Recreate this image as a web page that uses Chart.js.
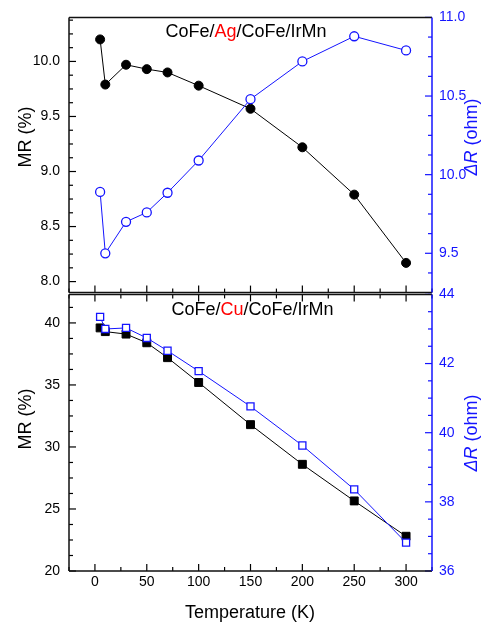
<!DOCTYPE html>
<html><head><meta charset="utf-8">
<script src="https://cdn.jsdelivr.net/npm/chart.js@4.4.0/dist/chart.umd.min.js"></script>
<style>
html,body{margin:0;padding:0;background:#fff;width:485px;height:624px;overflow:hidden}
canvas{position:absolute;left:0}
#c1{top:0}
#c2{top:277px}
</style></head><body>
<canvas id="c1" width="485" height="310"></canvas>
<canvas id="c2" width="485" height="347"></canvas>
<script>
// ---- data ----
const temps = [5, 10, 30, 50, 70, 100, 150, 200, 250, 300];
const agMR = [10.20, 9.79, 9.97, 9.93, 9.90, 9.78, 9.57, 9.22, 8.79, 8.17];
const agDR = [9.89, 9.50, 9.70, 9.76, 9.885, 10.09, 10.48, 10.72, 10.88, 10.79];
const cuMR = [39.6, 39.3, 39.1, 38.4, 37.2, 35.2, 31.8, 28.6, 25.65, 22.8];
const cuDR = [43.35, 43.0, 43.03, 42.74, 42.37, 41.78, 40.76, 39.63, 38.36, 36.82];
const xTicks = [0, 50, 100, 150, 200, 250, 300];
const agMRTicks = [8.0, 8.5, 9.0, 9.5, 10.0];
const agDRTicks = [9.5, 10.0, 10.5, 11.0];
const cuMRTicks = [20, 25, 30, 35, 40];
const cuDRTicks = [36, 38, 40, 42, 44];

const BLUE = '#1414ff';
const FONT = '"Liberation Sans", Arial, sans-serif';
const LEFT_W = 69, RIGHT_W = 53;

function pts(xs, ys) { return xs.map((x, i) => ({x: x, y: ys[i]})); }

function drawTicks(ctx, scale, majors, step, horizontal, edge, dir, color) {
  ctx.strokeStyle = color;
  ctx.lineWidth = 1.2;
  const start = Math.ceil(scale.min / step - 1e-6) * step;
  for (let v = start; v <= scale.max + 1e-9; v += step) {
    const isMajor = majors.some(m => Math.abs(m - v) < 1e-6);
    const len = isMajor ? 7 : 4;
    const p = scale.getPixelForValue(v);
    ctx.beginPath();
    if (horizontal) { ctx.moveTo(p, edge); ctx.lineTo(p, edge + dir * len); }
    else { ctx.moveTo(edge, p); ctx.lineTo(edge + dir * len, p); }
    ctx.stroke();
  }
}

function framePlugin(cfg) {
  return {
    id: 'frame',
    afterDatasetsDraw(chart) {
      const ctx = chart.ctx, a = chart.chartArea, s = chart.scales;
      ctx.save();
      drawTicks(ctx, s.x, xTicks, 25, true, a.bottom, -1, '#000');
      if (cfg.topTicks) drawTicks(ctx, s.x, xTicks, 25, true, a.top, 1, '#000');
      drawTicks(ctx, s.y, cfg.yMajors, cfg.yStep, false, a.left, 1, '#000');
      drawTicks(ctx, s.y1, cfg.y1Majors, cfg.y1Step, false, a.right, -1, BLUE);
      ctx.lineWidth = 1.5;
      ctx.strokeStyle = '#111';
      ctx.beginPath();
      ctx.moveTo(a.left, a.top); ctx.lineTo(a.right, a.top);
      ctx.moveTo(a.left, a.bottom); ctx.lineTo(a.right, a.bottom);
      ctx.moveTo(a.left, a.top); ctx.lineTo(a.left, a.bottom);
      ctx.stroke();
      ctx.strokeStyle = BLUE;
      ctx.beginPath();
      ctx.moveTo(a.right, a.top); ctx.lineTo(a.right, a.bottom);
      ctx.stroke();
      ctx.restore();
    }
  };
}

function textPlugin(cfg) {
  return {
    id: 'texts',
    afterDraw(chart) {
      const ctx = chart.ctx;
      ctx.save();
      ctx.font = '18px ' + FONT;
      ctx.textBaseline = 'alphabetic';
      ctx.textAlign = 'left';
      let x = cfg.titleX;
      cfg.title.forEach(part => {
        ctx.fillStyle = part[1];
        ctx.fillText(part[0], x, cfg.titleY);
        x += ctx.measureText(part[0]).width;
      });
      ctx.save();
      ctx.translate(26, cfg.leftTitleY);
      ctx.rotate(-Math.PI / 2);
      ctx.textAlign = 'center';
      ctx.textBaseline = 'middle';
      ctx.fillStyle = '#000';
      ctx.font = '18px ' + FONT;
      ctx.fillText('MR (%)', 0, 0);
      ctx.restore();
      ctx.save();
      ctx.translate(472, cfg.rightTitleY);
      ctx.rotate(-Math.PI / 2);
      ctx.textBaseline = 'middle';
      ctx.fillStyle = BLUE;
      ctx.font = 'italic 18px ' + FONT;
      const p1 = '\u0394R';
      const w1 = ctx.measureText(p1).width;
      ctx.font = '18px ' + FONT;
      const p2 = ' (ohm)';
      const w2 = ctx.measureText(p2).width;
      const x0 = -(w1 + w2) / 2;
      ctx.textAlign = 'left';
      ctx.font = 'italic 18px ' + FONT;
      ctx.fillText(p1, x0, 0);
      ctx.font = '18px ' + FONT;
      ctx.fillText(p2, x0 + w1, 0);
      ctx.restore();
      if (cfg.xTitle) {
        ctx.font = '18px ' + FONT;
        ctx.fillStyle = '#000';
        ctx.textAlign = 'center';
        ctx.textBaseline = 'alphabetic';
        ctx.fillText(cfg.xTitle, 250, cfg.xTitleY);
      }
      ctx.restore();
    }
  };
}

function setTicks(arr) { return function (scale) { scale.ticks = arr.map(v => ({value: v})); }; }

function makeChart(id, o) {
  return new Chart(document.getElementById(id), {
    type: 'line',
    data: {
      datasets: [
        {
          data: pts(temps, o.dr), yAxisID: 'y1',
          borderColor: BLUE, borderWidth: 1, backgroundColor: '#fff',
          pointStyle: o.style, pointRadius: o.openR, pointBorderWidth: 1.3,
          pointBorderColor: BLUE, pointBackgroundColor: '#fff', tension: 0
        },
        {
          data: pts(temps, o.mr), yAxisID: 'y',
          borderColor: '#000', borderWidth: 1, backgroundColor: '#000',
          pointStyle: o.style, pointRadius: o.fillR, pointBorderWidth: 1,
          pointBorderColor: '#000', pointBackgroundColor: '#000', tension: 0
        }
      ]
    },
    options: {
      responsive: false, animation: false, devicePixelRatio: 1,
      layout: {padding: {top: o.padTop, left: 0, right: 0, bottom: 0}},
      plugins: {legend: {display: false}, tooltip: {enabled: false}},
      scales: {
        x: {
          type: 'linear', min: -25, max: 325,
          afterBuildTicks: setTicks(xTicks),
          afterFit: s => { s.height = o.xH; },
          grid: {display: false, drawTicks: false}, border: {display: false},
          ticks: {display: o.xLabels, color: '#000', font: {family: FONT, size: 14}, padding: 3, maxRotation: 0}
        },
        y: {
          type: 'linear', position: 'left', min: o.yMin, max: o.yMax,
          afterBuildTicks: setTicks(o.yTicks),
          afterFit: s => { s.width = LEFT_W; },
          grid: {display: false, drawTicks: false}, border: {display: false},
          ticks: {color: '#000', font: {family: FONT, size: 14}, padding: 9,
            callback: v => o.fmt(v)}
        },
        y1: {
          type: 'linear', position: 'right', min: o.y1Min, max: o.y1Max,
          afterBuildTicks: setTicks(o.y1Ticks),
          afterFit: s => { s.width = RIGHT_W; },
          grid: {display: false, drawTicks: false}, border: {display: false},
          ticks: {color: BLUE, font: {family: FONT, size: 14}, padding: 7,
            callback: v => o.fmt(v)}
        }
      }
    },
    plugins: [framePlugin(o.frame), textPlugin(o.text)]
  });
}

makeChart('c1', {
  mr: agMR, dr: agDR, style: 'circle', fillR: 4.5, openR: 4.5,
  padTop: 17, xH: 16.5, xLabels: false,
  yMin: 7.9, yMax: 10.4, yTicks: agMRTicks,
  y1Min: 9.25, y1Max: 11.0, y1Ticks: agDRTicks,
  fmt: v => v.toFixed(1),
  frame: {topTicks: false, yMajors: agMRTicks, yStep: 0.125, y1Majors: agDRTicks, y1Step: 0.125},
  text: {title: [['CoFe/', '#000'], ['Ag', '#ff0000'], ['/CoFe/IrMn', '#000']],
    titleX: 165.5, titleY: 36.5, leftTitleY: 137, rightTitleY: 137}
});

makeChart('c2', {
  mr: cuMR, dr: cuDR, style: 'rect', fillR: 5.6, openR: 5,
  padTop: 17, xH: 53, xLabels: true,
  yMin: 20, yMax: 42.3, yTicks: cuMRTicks,
  y1Min: 36, y1Max: 44, y1Ticks: cuDRTicks,
  fmt: v => String(Math.round(v)),
  frame: {topTicks: true, yMajors: cuMRTicks, yStep: 1.25, y1Majors: cuDRTicks, y1Step: 0.5},
  text: {title: [['CoFe/', '#000'], ['Cu', '#ff0000'], ['/CoFe/IrMn', '#000']],
    titleX: 171.5, titleY: 38, leftTitleY: 142, rightTitleY: 156,
    xTitle: 'Temperature (K)', xTitleY: 341}
});
</script>
</body></html>
